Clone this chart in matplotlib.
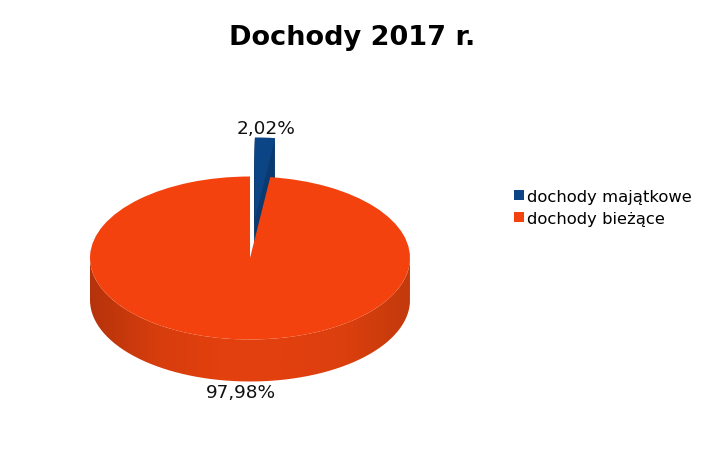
import numpy as np
import matplotlib
matplotlib.use("Agg")
import matplotlib.pyplot as plt
from matplotlib.colors import LinearSegmentedColormap
from matplotlib.patches import PathPatch
from matplotlib.path import Path

title = "Dochody 2017 r."
categories = ["dochody majątkowe", "dochody bieżące"]
values = [2.02, 97.98]
colors = ["#0b4586", "#f4420e"]
side_blue = "#0a3a70"
side_stops = ["#b5330b", "#d63d0d", "#e2400e", "#e2400e", "#dc3f0e", "#c23a0c"]

W, H = 719, 460
depth = 42 / 81.5
explode = [0.48, 0]
label_text = [f"{v:.2f}%".replace(".", ",") for v in values]

plt.rcParams["font.family"] = ["DejaVu Sans"]
fig = plt.figure(figsize=(W / 100, H / 100), dpi=100)

# pie axes: unit circle squashed to the 160 x 81 px ellipse
ax = fig.add_axes([90 / W, 1 - 340.5 / H, 320 / W, 163 / H])

# side of the blue slice, seen through the gap
for d in np.linspace(depth, 0.01, 30):
    w, _ = ax.pie(values, explode=explode, colors=[side_blue, "none"], startangle=90,
                  counterclock=False, center=(0, -d), radius=1)
    w[1].set_visible(False)

# side of the disc with a horizontal gradient
t = np.linspace(np.pi, 2 * np.pi, 200)
xs = np.cos(t)
verts = list(zip(xs, np.sin(t))) + list(zip(xs[::-1], np.sin(t)[::-1] - depth))
side = PathPatch(Path(verts + [verts[0]]), fc="none", ec="none")
ax.add_patch(side)
cmap = LinearSegmentedColormap.from_list("side", side_stops)
img = ax.imshow(np.linspace(0, 1, 256).reshape(1, -1), cmap=cmap, aspect="auto",
                extent=(-1, 1, -1 - depth, 0), zorder=0.5)
img.set_clip_path(side)
img.set_clip_box(fig.bbox)

# top face
wedges, _ = ax.pie(values, explode=explode, colors=colors, startangle=90,
                   counterclock=False, radius=1)
for w in wedges:
    w.set_zorder(2)

ax.set_aspect("auto")
ax.set_xlim(-1, 1)
ax.set_ylim(-1, 1)
ax.axis("off")
for a in ax.patches:
    a.set_clip_on(False)

fig.text(352 / W, 1 - 38 / H, title, ha="center", va="center", fontsize=19.5,
         fontweight="bold", color="#000000")
fig.text(266 / W, 1 - 129 / H, label_text[0], ha="center", va="center", fontsize=13.3, color="#111111")
fig.text(241 / W, 1 - 393 / H, label_text[1], ha="center", va="center", fontsize=13.3, color="#111111")

fig.legend(wedges, categories, loc="upper left", bbox_to_anchor=(514 / W, 1 - 190 / H),
           frameon=False, fontsize=11.8, handlelength=0.6, handleheight=0.6,
           handletextpad=0.2, labelspacing=0.4, borderpad=0, borderaxespad=0)

fig.savefig("out.png", dpi=100)
